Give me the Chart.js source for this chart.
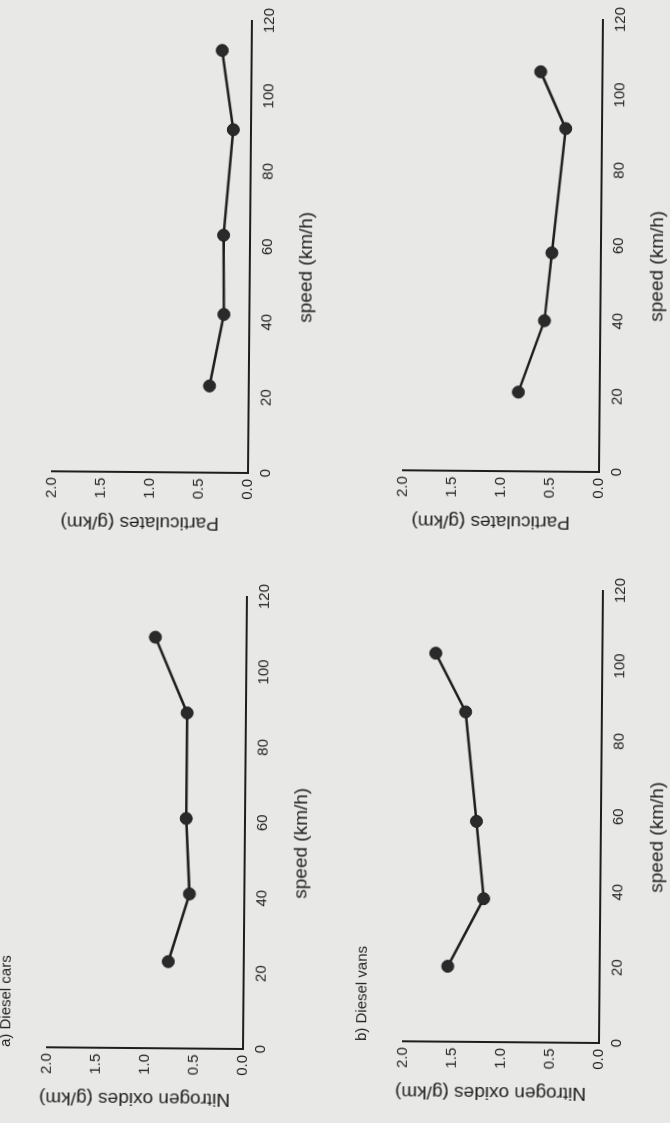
<!DOCTYPE html>
<html>
<head>
<meta charset="utf-8">
<script src="https://cdn.jsdelivr.net/npm/chart.js@4/dist/chart.umd.min.js"></script>
<style>
 html,body{margin:0;padding:0;background:#e8e8e6;}
 body{width:670px;height:1123px;position:relative;overflow:hidden;}
 canvas{position:absolute;transform-origin:70px 246px;transform:rotate(-89.5deg);}
 #pmCars{left:178px;top:227px;}
 #pmVans{left:529px;top:226px;}
 #noxCars{left:173px;top:803px;}
 #noxVans{left:529px;top:797px;}
</style>
</head>
<body>
<canvas id="pmCars" width="544" height="316"></canvas>
<canvas id="pmVans" width="544" height="316"></canvas>
<canvas id="noxCars" width="544" height="316"></canvas>
<canvas id="noxVans" width="544" height="316"></canvas>
<script>
const speedTicks=[0,20,40,60,80,100,120];
const valueTicks=[0,0.5,1,1.5,2];

const carsPmSpeed=[23,42,63,91,112];
const carsPm=[0.40,0.26,0.27,0.18,0.30];
const vansPmSpeed=[21,40,58,91,106];
const vansPm=[0.83,0.57,0.50,0.37,0.63];
const carsNoxSpeed=[23,41,61,89,109];
const carsNox=[0.77,0.56,0.60,0.60,0.93];
const vansNoxSpeed=[20,38,58.5,87.5,103];
const vansNox=[1.55,1.19,1.27,1.39,1.70];

const ink='#1e1e1e';
const face="'Liberation Sans', Arial, Helvetica, sans-serif";

// axis names sit a little off-centre in the printed figure, so draw them here
const axisNames={
 id:'axisNames',
 afterDraw(chart,args,o){
  const {ctx,chartArea:ca}=chart;
  ctx.save();
  ctx.fillStyle=ink;
  ctx.font='19px '+face;
  ctx.textAlign='center';
  ctx.textBaseline='middle';
  ctx.fillText(o.x,(ca.left+ca.right)/2-20,ca.bottom+57);
  ctx.translate(ca.left-50,(ca.top+ca.bottom)/2-10);
  ctx.rotate(-Math.PI/2);
  ctx.fillText(o.y,0,0);
  ctx.restore();
 }
};

function panel(id,speeds,values,yTitle,label){
 const pts=speeds.map((s,i)=>({x:s,y:values[i]}));
 new Chart(document.getElementById(id),{
  type:'line',
  data:{datasets:[{data:pts,borderColor:ink,borderWidth:2.5,tension:0,
   pointRadius:6,pointBackgroundColor:'#2a2a2a',pointBorderColor:ink,pointBorderWidth:1}]},
  plugins:[axisNames],
  options:{
   responsive:false,animation:false,devicePixelRatio:1,
   layout:{padding:{top:label?0:50,right:20,left:0,bottom:0}},
   plugins:{
    legend:{display:false},tooltip:{enabled:false},
    title:{display:!!label,text:label||'',align:'start',fullSize:false,color:ink,
     font:{family:face,size:15,weight:'normal'},padding:{top:0,bottom:32}},
    axisNames:{x:'speed (km/h)',y:yTitle}
   },
   scales:{
    x:{type:'linear',min:0,max:120,
     afterBuildTicks:s=>{s.ticks=speedTicks.map(v=>({value:v}));},
     afterFit:s=>{s.height=70;},
     grid:{display:false,drawTicks:false},
     border:{display:true,color:ink,width:2},
     ticks:{color:ink,padding:9,maxRotation:0,font:{family:face,size:15}}},
    y:{min:0,max:2,
     afterBuildTicks:s=>{s.ticks=valueTicks.map(v=>({value:v}));},
     afterFit:s=>{s.width=70;},
     grid:{display:false,drawTicks:false},
     border:{display:true,color:ink,width:2},
     ticks:{color:ink,padding:6,callback:v=>v.toFixed(1),font:{family:face,size:15}}}
   }
  }
 });
}

panel('pmCars',carsPmSpeed,carsPm,'Particulates (g/km)');
panel('pmVans',vansPmSpeed,vansPm,'Particulates (g/km)');
panel('noxCars',carsNoxSpeed,carsNox,'Nitrogen oxides (g/km)','a) Diesel cars');
panel('noxVans',vansNoxSpeed,vansNox,'Nitrogen oxides (g/km)','b) Diesel vans');
</script>
</body>
</html>
